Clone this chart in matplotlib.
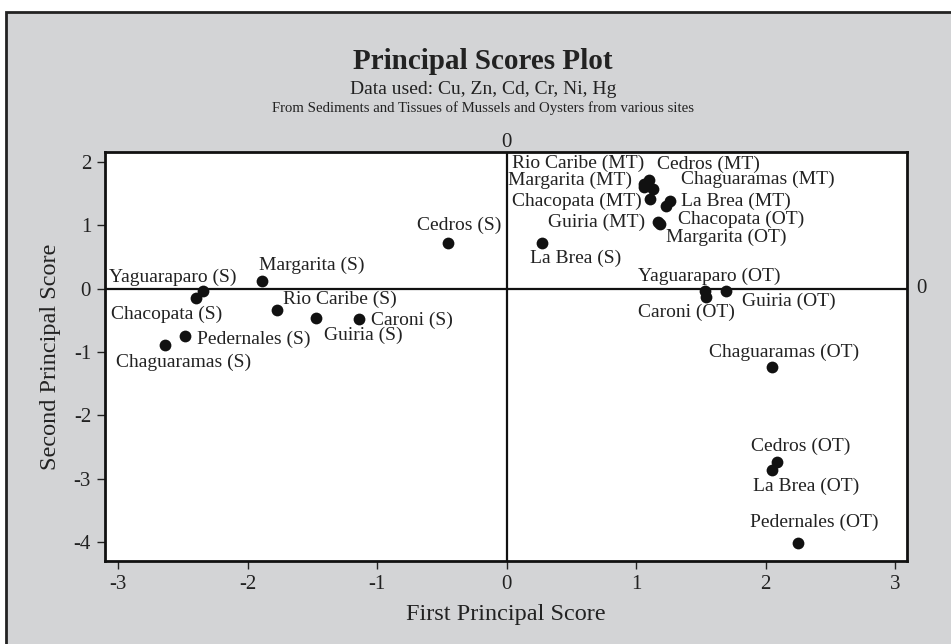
import matplotlib.pyplot as plt
from matplotlib.patches import Rectangle

# principal scores
sites_s = ["Yaguaraparo", "Chacopata", "Margarita", "Cedros", "Rio Caribe",
           "Guiria", "Caroni", "Pedernales", "Chaguaramas", "La Brea"]
x_s = [-2.34, -2.40, -1.89, -0.45, -1.77, -1.47, -1.14, -2.48, -2.64, 0.27]
y_s = [-0.04, -0.15, 0.13, 0.72, -0.34, -0.46, -0.48, -0.75, -0.89, 0.72]

sites_mt = ["Rio Caribe", "Cedros", "Margarita", "Chaguaramas", "Chacopata",
            "La Brea", "Guiria"]
x_mt = [1.06, 1.10, 1.06, 1.13, 1.11, 1.26, 1.17]
y_mt = [1.65, 1.72, 1.61, 1.57, 1.41, 1.39, 1.05]

sites_ot = ["Chacopata", "Margarita", "Yaguaraparo", "Caroni", "Guiria",
            "Chaguaramas", "Cedros", "La Brea", "Pedernales"]
x_ot = [1.23, 1.18, 1.53, 1.54, 1.69, 2.05, 2.09, 2.05, 2.25]
y_ot = [1.31, 1.03, -0.04, -0.13, -0.04, -1.24, -2.73, -2.86, -4.01]

xticks = [-3, -2, -1, 0, 1, 2, 3]
yticks = [2, 1, 0, -1, -2, -3, -4]

# label offsets in pixels (dx, dy), like stata's mlabposition
off_s = [(-31, 14), (-29, -16), (50, 15), (11, 18), (63, 11),
         (47, -17), (53, -1), (68, -3), (19, -17), (34, -15)]
off_mt = [(-66, 21), (59, 16), (-74, 6), (105, 10), (-74, -2), (66, -1), (-62, 0)]
off_ot = [(75, -14), (67, -14), (4, 15), (-20, -15), (63, -10),
          (12, 15), (23, 15), (34, -17), (16, 20)]

plt.rcParams['font.family'] = ['Liberation Serif', 'DejaVu Serif']
grey = '#d3d4d6'
ink = '#222222'
W, H = 951, 644

fig = plt.figure(figsize=(W / 100, H / 100), dpi=100)
fig.patch.set_facecolor('white')
bg = Rectangle((6 / W, -0.05), 1.2, 1.05 - 12 / H, transform=fig.transFigure,
               facecolor=grey, edgecolor=ink, linewidth=2, zorder=-5)
fig.add_artist(bg)

ax = fig.add_axes([105 / W, (H - 561) / H, (907 - 105) / W, (561 - 152) / H])
ax.set_zorder(2)
ax.set_facecolor('white')

ax.axhline(0, color='#111111', lw=1.6, zorder=1)
ax.axvline(0, color='#111111', lw=1.6, zorder=1)

for names, xs, ys, offs, tag in [(sites_s, x_s, y_s, off_s, 'S'),
                                  (sites_mt, x_mt, y_mt, off_mt, 'MT'),
                                  (sites_ot, x_ot, y_ot, off_ot, 'OT')]:
    ax.scatter(xs, ys, s=72, color='#111111', zorder=3, linewidths=0)
    for n, x, y, o in zip(names, xs, ys, offs):
        ax.annotate(f"{n} ({tag})", (x, y), xytext=o, textcoords='offset pixels',
                    ha='center', va='center', fontsize=14, color=ink)

ax.set_xlim(-3.1, 3.09)
ax.set_ylim(-4.3, 2.16)
ax.set_xticks(xticks)
ax.set_xticklabels([str(t) for t in xticks])
ax.set_yticks(yticks)
ax.set_yticklabels([str(t) for t in yticks])
ax.tick_params(direction='out', length=6, width=1, labelsize=15, colors=ink, pad=4)
for sp in ax.spines.values():
    sp.set_linewidth(2)
    sp.set_color('#111111')

ax.set_xlabel("First Principal Score", fontsize=17.5, color=ink, labelpad=7)
ax.set_ylabel("Second Principal Score", fontsize=17.5, color=ink, labelpad=9)

# zero markers on the top and right edge
ax.text(0, (289 - 147) / 63.5, "0", ha='center', va='baseline', fontsize=15, color=ink,
        clip_on=False)
ax.text(1.012, 0, "0", transform=ax.get_yaxis_transform(), ha='left', va='center',
        fontsize=15, color=ink)

cx = 483 / W
fig.text(cx, 1 - 69 / H, "Principal Scores Plot", ha='center', va='baseline',
         fontsize=21, fontweight='bold', color=ink)
fig.text(cx, 1 - 94 / H, "Data used: Cu, Zn, Cd, Cr, Ni, Hg", ha='center', va='baseline',
         fontsize=14, color=ink)
fig.text(cx, 1 - 112 / H, "From Sediments and Tissues of Mussels and Oysters from various sites",
         ha='center', va='baseline', fontsize=10.6, color=ink)

fig.savefig("out.png", dpi=100)
